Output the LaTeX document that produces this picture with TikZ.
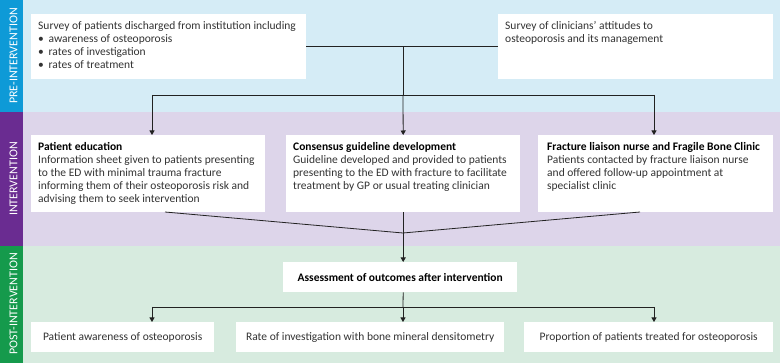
\documentclass[tikz,border=0pt]{standalone}
\usepackage{fontspec}
\setmainfont{Carlito}
\usetikzlibrary{arrows.meta}
\definecolor{prebg}{HTML}{D5ECF6}
\definecolor{prestrip}{HTML}{0E9AD7}
\definecolor{intbg}{HTML}{DDD5EA}
\definecolor{intstrip}{HTML}{6A2C91}
\definecolor{postbg}{HTML}{D7EBDF}
\definecolor{poststrip}{HTML}{159A4C}
\definecolor{txt}{HTML}{333333}
\definecolor{lnk}{HTML}{222222}
\newcommand{\boxtext}[3]{\parbox[c][#1][t]{#2}{\raggedright\vspace*{5.9pt}\strut #3}}
\newcommand{\rowtxt}[1]{\mbox{#1}}
\newcommand{\bul}{\makebox[10.5pt][l]{•}}
\tikzset{
  panel/.style={fill=white, draw=none, anchor=north west, inner xsep=7pt, inner ysep=0pt,
    font=\fontsize{11.5}{13}\selectfont, text=txt},
  outbox/.style={panel, inner xsep=0pt, align=center},
  link/.style={draw=lnk, line width=0.8pt},
  arr/.style={link, -{Triangle[width=5pt,length=4.5pt]}},
  lane/.style={rotate=90, text=white, font=\fontsize{12}{13}\selectfont},
}
\begin{document}
\begin{tikzpicture}[x=1pt,y=-1pt]
\useasboundingbox (0,0) rectangle (780,363);
% bands
\fill[prebg] (0,0) rectangle (780,112);
\fill[intbg] (0,112) rectangle (780,246);
\fill[postbg] (0,246) rectangle (780,363);
\fill[prestrip] (0,0) rectangle (23,112);
\fill[intstrip] (0,112) rectangle (23,246);
\fill[poststrip] (0,246) rectangle (23,363);
\node[lane] (lpre) at (13.5,56) {PRE-INTERVENTION};
\node[lane] (lint) at (13.5,179) {INTERVENTION};
\node[lane] (lpost) at (13.5,304) {POST-INTERVENTION};
% pre-intervention
\node[panel] (s1) at (31,14) {\boxtext{65pt}{261pt}{%
  \rowtxt{Survey of patients discharged from institution including}\\
  \rowtxt{\bul awareness of osteoporosis}\\
  \rowtxt{\bul rates of investigation}\\
  \rowtxt{\bul rates of treatment}}};
\node[panel] (s2) at (498,14) {\boxtext{65pt}{261pt}{%
  \rowtxt{Survey of clinicians’ attitudes to}\\
  \rowtxt{osteoporosis and its management}}};
% intervention
\node[panel] (i1) at (31,135) {\boxtext{77pt}{220pt}{%
  \rowtxt{\textbf{\color{black}Patient education}}\\
  \rowtxt{Information sheet given to patients presenting}\\
  \rowtxt{to the ED with minimal trauma fracture}\\
  \rowtxt{informing them of their osteoporosis risk and}\\
  \rowtxt{advising them to seek intervention}}};
\node[panel] (i2) at (286,135) {\boxtext{77pt}{220pt}{%
  \rowtxt{\textbf{\color{black}Consensus guideline development}}\\
  \rowtxt{Guideline developed and provided to patients}\\
  \rowtxt{presenting to the ED with fracture to facilitate}\\
  \rowtxt{treatment by GP or usual treating clinician}}};
\node[panel, inner xsep=9pt] (i3) at (538,135) {\boxtext{77pt}{217pt}{%
  \rowtxt{\textbf{\color{black}Fracture liaison nurse and Fragile Bone Clinic}}\\
  \rowtxt{Patients contacted by fracture liaison nurse}\\
  \rowtxt{and offered follow-up appointment at}\\
  \rowtxt{specialist clinic}}};
% post-intervention
\node[outbox, minimum width=234pt, minimum height=30pt, text=black] (as) at (283,262) {\textbf{Assessment of outcomes after intervention}};
\node[outbox, minimum width=183pt, minimum height=30pt] (o1) at (31,322) {Patient awareness of osteoporosis};
\node[outbox, minimum width=268pt, minimum height=30pt] (o2) at (236,322) {Rate of investigation with bone mineral densitometry};
\node[outbox, minimum width=249pt, minimum height=30pt] (o3) at (524,322) {Proportion of patients treated for osteoporosis};
% connectors: pre -> intervention
\coordinate (j1) at (403,46.5);
\coordinate (tl) at (152,95);
\coordinate (tm) at (403,95);
\coordinate (tr) at (654,95);
\draw[link] (s1.east) -- (s2.west);
\draw[link] (j1) -- (tm);
\draw[link] (tl) -- (tr);
\draw[arr] (tl) -- (tl |- i1.north);
\draw[arr] (tm) -- (i2.north);
\draw[arr] (tr) -- (tr |- i3.north);
% intervention -> assessment
\coordinate (c1) at (165,212);
\coordinate (c3) at (640,212);
\coordinate (cm) at (403,233);
\draw[link] (c1) -- (cm) -- (c3);
\draw[arr] (i2.south) -- (i2.south |- as.north);
% assessment -> outcomes
\coordinate (bl) at (152,307);
\coordinate (bm) at (403,307);
\coordinate (br) at (654,307);
\draw[link] (i2.south |- as.south) -- (bm);
\draw[link] (bl) -- (br);
\draw[arr] (bl) -- (bl |- o1.north);
\draw[arr] (bm) -- (bm |- o2.north);
\draw[arr] (br) -- (br |- o3.north);
\end{tikzpicture}
\end{document}
